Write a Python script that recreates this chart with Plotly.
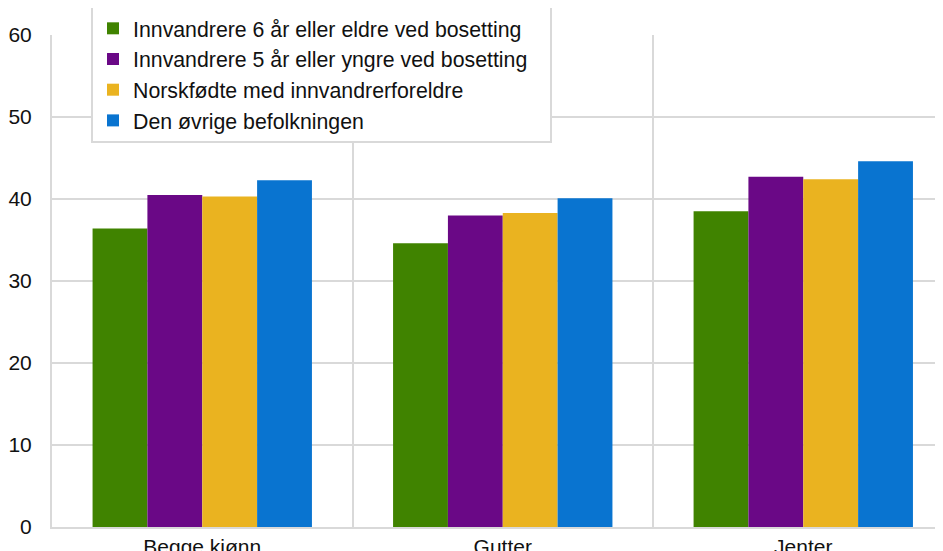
import plotly.graph_objects as go

categories = ["Begge kjønn", "Gutter", "Jenter"]
series_names = [
    "Innvandrere 6 år eller eldre ved bosetting",
    "Innvandrere 5 år eller yngre ved bosetting",
    "Norskfødte med innvandrerforeldre",
    "Den øvrige befolkningen",
]
innv6 = [36.4, 34.6, 38.5]
innv5 = [40.5, 38.0, 42.7]
norskfodte = [40.3, 38.3, 42.4]
ovrige = [42.3, 40.1, 44.6]
series_values = [innv6, innv5, norskfodte, ovrige]
colors = ["#408300", "#6a0886", "#eab320", "#0974d0"]

fig = go.Figure()
for i, (name, vals, col) in enumerate(zip(series_names, series_values, colors)):
    label = name + ("\u00a0" * 3 if i == 1 else "")
    fig.add_trace(go.Bar(
        x=categories, y=vals, name=label,
        marker=dict(color=col, line=dict(width=0)),
    ))

font_family = "Liberation Sans, Arial, sans-serif"
grid = "#d9d9d9"
fig.update_layout(
    width=943, height=551,
    margin=dict(l=44, r=8, t=27, b=32, autoexpand=False),
    paper_bgcolor="white", plot_bgcolor="white",
    barmode="group", bargap=0.27, bargroupgap=0,
    font=dict(family=font_family, size=21, color="#111111"),
    showlegend=True,
    legend=dict(
        x=0.0438, y=1.059, xanchor="left", yanchor="top",
        bgcolor="white", bordercolor=grid, borderwidth=2,
        font=dict(size=21.3), traceorder="normal",
    ),
    xaxis=dict(
        type="category", range=[-0.5, 2.465], automargin=False,
        tickson="boundaries", ticks="", showgrid=True, gridcolor=grid, gridwidth=2,
        showline=True, linecolor=grid, linewidth=2,
        ticklabelstandoff=0,
    ),
    yaxis=dict(
        range=[0, 60], tickvals=[0, 10, 20, 30, 40, 50, 60], automargin=False,
        showgrid=True, gridcolor=grid, gridwidth=2,
        showline=True, linecolor=grid, linewidth=2,
        zeroline=False, ticks="", ticklabelstandoff=14,
    ),
)

fig.write_html("out.html")
